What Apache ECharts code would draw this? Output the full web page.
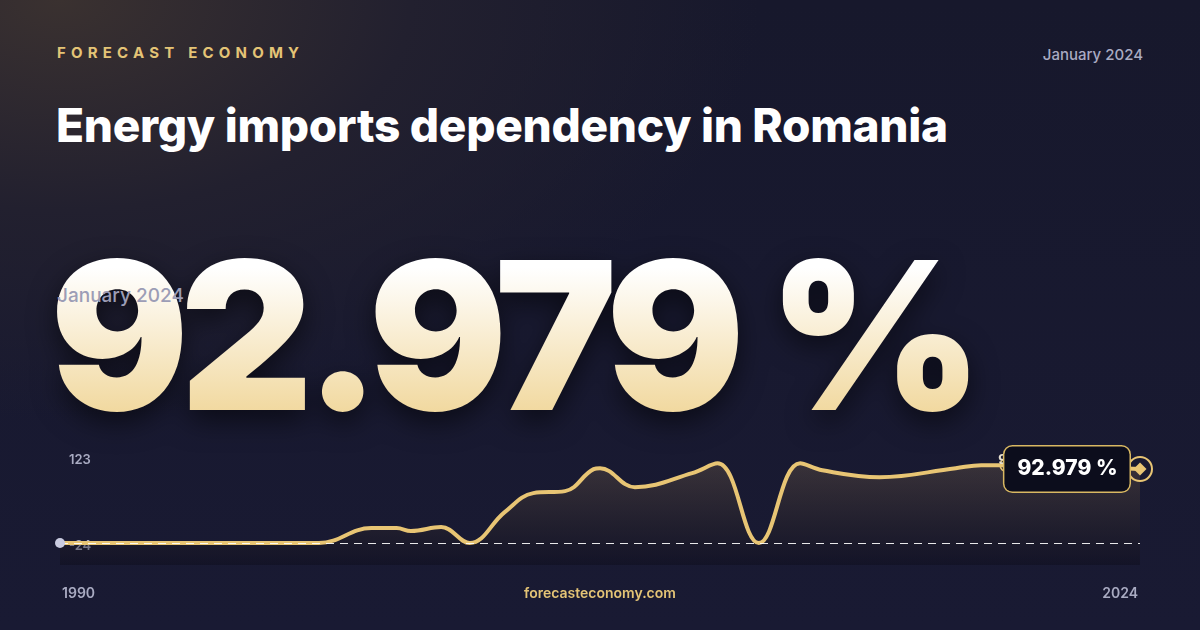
<!DOCTYPE html>
<html><head><meta charset="utf-8">
<script src="https://cdn.jsdelivr.net/npm/echarts@6/dist/echarts.min.js"></script>
<style>
html,body{margin:0;width:1200px;height:630px;overflow:hidden;font-family:Inter,"Noto Sans",sans-serif;}
body{background:radial-gradient(ellipse 700px 420px at 60px 0px,#3a3130 0%,#22202f 50%,rgba(22,24,48,0) 100%),linear-gradient(180deg,#17182c 0%,#191a33 100%);position:relative;}
.t{position:absolute;white-space:nowrap;}
#chart{position:absolute;left:0;top:0;width:1200px;height:630px;}
</style></head><body>
<div class="t" style="left:57px;top:43px;color:#e4c476;font-size:15px;font-weight:700;letter-spacing:5.2px;">FORECAST ECONOMY</div>
<div class="t" style="right:57px;top:45px;color:#a9abc2;font-size:15px;font-weight:500;">January 2024</div>
<div class="t" style="left:56px;top:97px;color:#fff;font-size:46px;font-weight:800;letter-spacing:-0.3px;">Energy imports dependency in Romania</div>
<div class="t" style="left:50px;top:222px;font-size:206px;font-weight:900;letter-spacing:-9px;line-height:1.1;background:linear-gradient(180deg,#ffffff 20%,#f0d596 90%);-webkit-background-clip:text;background-clip:text;color:transparent;filter:drop-shadow(0 10px 14px rgba(0,0,0,0.55));">92.979 %</div>
<div class="t" style="left:57px;top:284px;color:#9c9db6;font-size:19px;font-weight:500;">January 2024</div>
<div id="chart"></div>
<div class="t" style="left:62px;top:584px;color:#a9abc2;font-size:14px;font-weight:600;">1990</div>
<div class="t" style="left:0;width:1200px;text-align:center;top:584px;color:#e4c476;font-size:14px;font-weight:600;">forecasteconomy.com</div>
<div class="t" style="right:62px;top:584px;color:#a9abc2;font-size:14px;font-weight:600;">2024</div>
<script>
const years = [1990,1998.15,1999.8,2000.6,2001.05,2002.0,2002.9,2004.0,2004.9,2005.9,2006.8,2007.0,2008.1,2009.9,2010.7,2012.0,2013.3,2014.0,2015.8,2018.2,2019.0,2019.8,2024];
const values = [-24,-24,-0.3,-0.3,-5,1.2,-24,24.9,54.9,58,92.7,94.3,64.3,86.4,102,-24,102,91,80,94.3,99,99,92.979];
const axisLabels = ['123','-24'];
const lastLabel = '92.979 %';
const data = years.map((y,i)=>[y,values[i]]);
const chart = echarts.init(document.getElementById('chart'),null,{renderer:'canvas'});
chart.setOption({
  animation:false,
  grid:{left:60,right:60,top:450,height:115},
  xAxis:{type:'value',min:1990,max:2024,show:false},
  yAxis:{type:'value',min:-58.7,max:123,show:false},
  graphic:[
    {type:'text',left:69,top:454,style:{text:axisLabels[0],fill:'#a9abc2',font:'600 13px Inter'}},
    {type:'text',left:69,top:540,style:{text:axisLabels[1],fill:'#a9abc2',font:'600 13px Inter'}}
  ],
  series:[{
    type:'line',data:data,smooth:0.4,symbol:'none',
    lineStyle:{color:'#e8c574',width:4},
    areaStyle:{origin:'start',color:new echarts.graphic.LinearGradient(0,0,0,1,[{offset:0,color:'rgba(110,90,70,0.55)'},{offset:1,color:'rgba(10,10,20,0.5)'}])},
    markLine:{silent:true,symbol:'none',label:{show:false},lineStyle:{color:'#ffffff',type:[8,6],width:1.2,opacity:0.9},data:[{yAxis:-24}]},
    markPoint:{silent:true,data:[
      {coord:[1990,-24],symbol:'circle',symbolSize:10,itemStyle:{color:'#c9cbe0'},label:{show:false}},
      {coord:[2019.8,99],symbol:'circle',symbolSize:13,itemStyle:{color:'rgba(0,0,0,0)',borderColor:'#e8c574',borderWidth:1.5},
        label:{show:true,formatter:'99',position:'top',offset:[0,14],color:'#e6e0d0',fontSize:15,fontWeight:700}},
      {coord:[2024,92.979],symbol:'circle',symbolSize:24,itemStyle:{color:'rgba(0,0,0,0)',borderColor:'#e8c574',borderWidth:2},label:{show:false}},
      {coord:[2024,92.979],symbol:'diamond',symbolSize:13,itemStyle:{color:'#e8c574'},
        label:{show:true,formatter:lastLabel,position:'left',distance:4,color:'#fff',fontSize:21,fontWeight:800,fontFamily:'Inter',
          backgroundColor:'#0c0d1c',borderColor:'#d9b862',borderWidth:1.5,borderRadius:8,padding:[12,12,12,13]}}
    ]}
  }]
});
</script></body></html>
